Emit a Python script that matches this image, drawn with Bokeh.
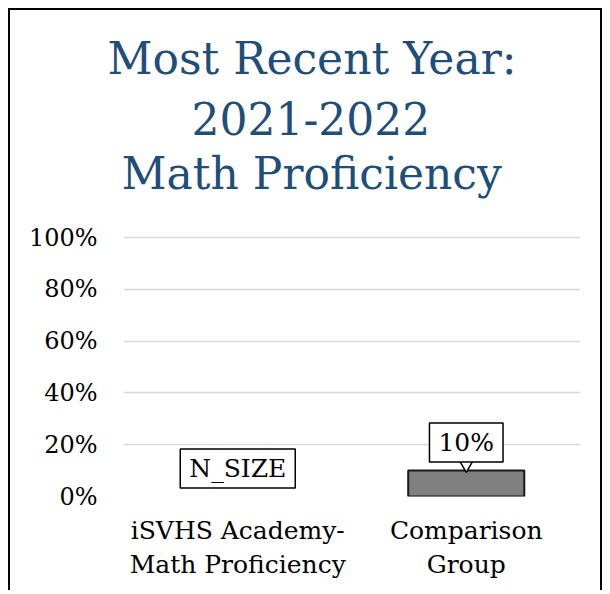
import math
from bokeh.plotting import figure
from bokeh.models import Range1d, FactorRange, Title, FixedTicker, NumeralTickFormatter
from bokeh.core.properties import value
from bokeh.embed import file_html
from bokeh.resources import INLINE

# ---- data ----
title_lines = ["Most Recent Year:", "2021-2022", "Math Proficiency"]
categories = ["iSVHS Academy-\nMath Proficiency", "Comparison\nGroup"]
values = [float("nan"), 0.10]
bar_labels = ["N_SIZE", "10%"]
y_ticks = [0, 0.2, 0.4, 0.6, 0.8, 1.0]

# ---- layout constants (pixels) ----
FONT = "DejaVu Serif"
TITLE_COLOR = "#1F4E79"
W, H = 594, 582
FRAME_LEFT, FRAME_RIGHT = 113, 570
FRAME_TOP, FRAME_BOTTOM = 192, 486
PX_PER_UNIT = 259                        # pixels from 0% to 100%
y_end = (FRAME_BOTTOM - FRAME_TOP) / PX_PER_UNIT
title_left_offsets = [-16, 68, -2]       # left edge of each title line relative to the frame
title_standoffs = [15, 16, 7]

p = figure(width=W, height=H, x_range=FactorRange(*categories), y_range=Range1d(0, y_end),
           output_backend="svg", toolbar_location=None, title=None,
           min_border_left=FRAME_LEFT, min_border_right=W - FRAME_RIGHT,
           min_border_top=FRAME_TOP, min_border_bottom=H - FRAME_BOTTOM)
p.outline_line_color = None
p.background_fill_color = "white"
p.border_fill_color = "white"
p.styles = {"margin-left": "8px", "margin-top": "8px",
            "border-left": "2px solid black", "border-top": "2px solid black",
            "border-right": "2px solid black"}

# title: the line added first sits closest to the plot
for txt, off, so in reversed(list(zip(title_lines, title_left_offsets, title_standoffs))):
    p.add_layout(Title(text=txt, align="left", offset=off, standoff=so,
                       text_font=FONT, text_font_size="44px", text_font_style="normal",
                       text_color=TITLE_COLOR), "above")

# grid
p.xgrid.grid_line_color = None
p.ygrid.ticker = FixedTicker(ticks=y_ticks)
p.ygrid.grid_line_color = "#D9D9D9"
p.ygrid.grid_line_width = 1.6

# y axis
p.yaxis.ticker = FixedTicker(ticks=y_ticks)
p.yaxis.formatter = NumeralTickFormatter(format="0%")
p.yaxis.axis_line_color = None
p.yaxis.major_tick_line_color = None
p.yaxis.minor_tick_line_color = None
p.yaxis.major_tick_out = 0
p.yaxis.major_tick_in = 0
p.yaxis.major_label_standoff = 26
p.yaxis.major_label_text_font = FONT
p.yaxis.major_label_text_font_size = "24px"
p.yaxis.major_label_text_color = "black"

# x axis
p.xaxis.axis_line_color = None
p.xaxis.major_tick_line_color = None
p.xaxis.minor_tick_line_color = None
p.xaxis.major_tick_out = 0
p.xaxis.major_tick_in = 0
p.xaxis.major_label_standoff = 19
p.xaxis.major_label_text_font = FONT
p.xaxis.major_label_text_font_size = "25px"
p.xaxis.major_label_text_color = "black"
p.xaxis.major_label_text_line_height = 1.18

# bars
bar_x = [c for c, v in zip(categories, values) if not math.isnan(v)]
bar_top = [v for v in values if not math.isnan(v)]
p.vbar(x=bar_x, top=bar_top, width=0.508, fill_color="#808080", line_color="#1A1A1A", line_width=2)

# callout pointer
p.scatter(x=bar_x, y=[v + 0.022 for v in bar_top], marker="inverted_triangle", size=13,
          fill_color="white", line_color="black", line_width=1.5)

# data labels
label_y = [0 if math.isnan(v) else v for v in values]
p.text(x=categories, y=label_y, text=bar_labels, y_offset=-28,
       text_align="center", text_baseline="middle",
       text_font=value(FONT), text_font_size="25px", text_color="black",
       background_fill_color="white", border_line_color="black", border_line_width=1.5,
       padding=dict(left=9, right=9, top=5, bottom=5))

open("out.html", "w").write(file_html(p, INLINE))
